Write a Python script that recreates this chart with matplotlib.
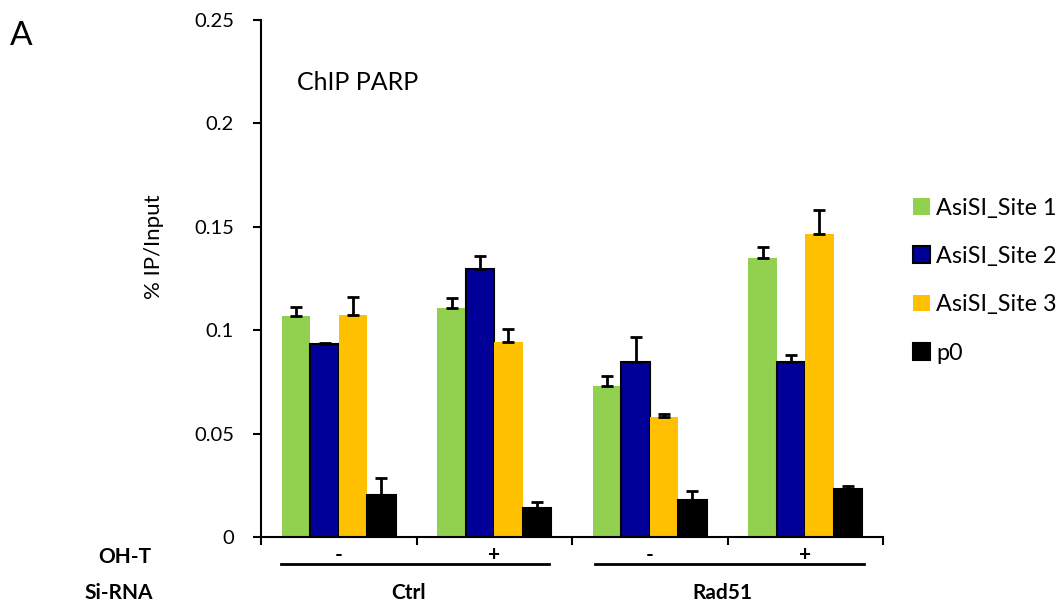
import matplotlib
matplotlib.use("Agg")
import matplotlib.pyplot as plt
import matplotlib.transforms as mtransforms
import numpy as np

plt.rcParams['font.family'] = ['Lato', 'DejaVu Sans']

groups = ["Ctrl -", "Ctrl +", "Rad51 -", "Rad51 +"]
oht_labels = ["-", "+", "-", "+"]
sirna_labels = ["Ctrl", "Rad51"]
series_names = ["AsiSI_Site 1", "AsiSI_Site 2", "AsiSI_Site 3", "p0"]

site1 = [0.1069, 0.1106, 0.0732, 0.1348]
site1_err = [0.0041, 0.0048, 0.0045, 0.0054]
site2 = [0.0935, 0.1294, 0.0846, 0.0845]
site2_err = [0.0002, 0.0065, 0.0121, 0.0037]
site3 = [0.1073, 0.0943, 0.0580, 0.1464]
site3_err = [0.0087, 0.0064, 0.0016, 0.0117]
p0 = [0.0201, 0.0142, 0.0180, 0.0232]
p0_err = [0.0086, 0.0026, 0.0044, 0.0016]

yticks = [0, 0.05, 0.1, 0.15, 0.2, 0.25]
ytick_labels = ["0", "0.05", "0.1", "0.15", "0.2", "0.25"]

colors = ["#92D050", "#000099", "#FFC000", "#000000"]
edges = ["none", "black", "none", "black"]

W, H = 1060, 605
fig = plt.figure(figsize=(W / 100, H / 100), dpi=100)
ax = fig.add_axes([261 / W, 1 - 537 / H, (883 - 261) / W, (537 - 20) / H])

values = [site1, site2, site3, p0]
errors = [site1_err, site2_err, site3_err, p0_err]
x = np.arange(len(groups))
bw = 0.183
handles = []
for i, (vals, errs) in enumerate(zip(values, errors)):
    pos = x + (i - 1.5) * bw
    b = ax.bar(pos, vals, width=bw, color=colors[i], edgecolor=edges[i],
               linewidth=1.5, label=series_names[i], zorder=2)
    handles.append(b)
    ax.errorbar(pos, vals, yerr=[np.zeros(len(errs)), errs], fmt='none',
                ecolor='black', elinewidth=2, capsize=4.5, capthick=2, zorder=3)

ax.set_xlim(-0.5, len(groups) - 0.5)
ax.set_ylim(0, 0.25)
ax.set_yticks(yticks)
ax.set_yticklabels(ytick_labels, fontsize=14.5)
ax.set_xticks(np.arange(len(groups) + 1) - 0.5)
ax.set_xticklabels([])
for s in ["top", "right"]:
    ax.spines[s].set_visible(False)
for s in ["left", "bottom"]:
    ax.spines[s].set_linewidth(1.5)
ax.tick_params(axis='y', direction='out', length=5.5, width=1.5, pad=14)
ax.tick_params(axis='x', direction='out', length=5.5, width=1.5)

# y label
fig.text(154 / W, 1 - 247 / H, "% IP/Input", rotation=90, ha='center', va='center', fontsize=16)

# panel letter and title
fig.text(10 / W, 1 - 45 / H, "A", fontsize=24, ha='left', va='baseline')
fig.text(297 / W, 1 - 90 / H, "ChIP PARP", fontsize=18, ha='left', va='baseline')

# legend: target row centres (px from top) and square size
leg_fs = 16.8
fs_px = leg_fs * 100 / 72
target_first = 206.5
target_step = 48.3
ls = 0.85
anchor_top = 192.0
renderer = fig.canvas.get_renderer()
for _ in range(3):
    leg = ax.legend(handles=handles, labels=series_names, loc='upper left',
                    bbox_to_anchor=(913 / W, 1 - anchor_top / H), bbox_transform=fig.transFigure,
                    frameon=False, fontsize=leg_fs, handlelength=0.73, handleheight=0.73,
                    handletextpad=0.26, labelspacing=ls, borderpad=0, borderaxespad=0)
    fig.canvas.draw()
    cents = []
    for h in leg.legend_handles:
        bb = h.get_window_extent(renderer)
        cents.append(H - (bb.y0 + bb.y1) / 2)
    step = (cents[-1] - cents[0]) / (len(cents) - 1)
    ls += (target_step - step) / fs_px
    anchor_top += target_first - cents[0]
    leg.remove()
leg = ax.legend(handles=handles, labels=series_names, loc='upper left',
                bbox_to_anchor=(913 / W, 1 - anchor_top / H), bbox_transform=fig.transFigure,
                frameon=False, fontsize=leg_fs, handlelength=0.73, handleheight=0.73,
                handletextpad=0.26, labelspacing=ls, borderpad=0, borderaxespad=0)

# bottom annotations
trans = mtransforms.blended_transform_factory(ax.transData, fig.transFigure)
for xi, lab in zip(x, oht_labels):
    ax.text(xi, 1 - 555 / H, lab, transform=trans, ha='center', va='center',
            fontsize=15, fontweight='bold', clip_on=False)
line_spans = [(-0.37, 1.35), (1.65, 3.38)]
for (a, b) in line_spans:
    ax.plot([a, b], [1 - 564 / H, 1 - 564 / H], transform=trans, color='black',
            linewidth=2, clip_on=False)
for xc, lab in zip([0.45, 2.47], sirna_labels):
    ax.text(xc, 1 - 593 / H, lab, transform=trans, ha='center', va='center',
            fontsize=15, fontweight='bold', clip_on=False)
fig.text(125 / W, 1 - 557 / H, "OH-T", ha='center', va='center', fontsize=15, fontweight='bold')
fig.text(119 / W, 1 - 593 / H, "Si-RNA", ha='center', va='center', fontsize=15, fontweight='bold')

fig.savefig("out.png", dpi=100)
